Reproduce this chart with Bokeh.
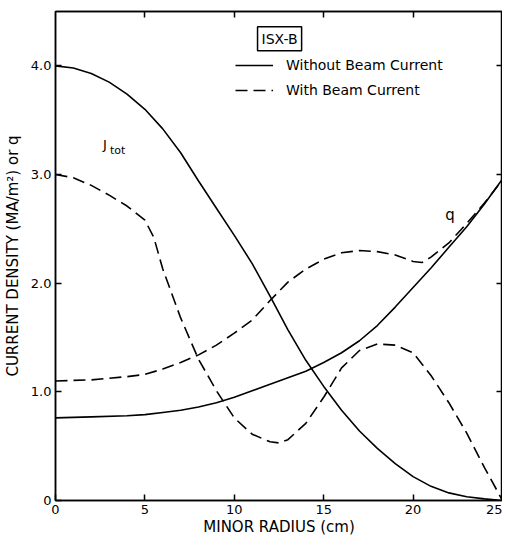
from bokeh.plotting import figure
from bokeh.models import (Range1d, LinearAxis, FixedTicker, Label, Legend, LegendItem)
from bokeh.embed import file_html
from bokeh.resources import INLINE

# ---- data ----
r_j_without = [0, 1, 2, 3, 4, 5, 6, 7, 8, 9, 10, 11, 12, 13, 14, 15, 16, 17, 18, 19, 20, 21, 22, 23, 24, 25]
j_without = [4.0, 3.98, 3.93, 3.85, 3.74, 3.60, 3.42, 3.20, 2.94, 2.69, 2.44, 2.18, 1.88, 1.57, 1.29, 1.05,
             0.83, 0.64, 0.48, 0.34, 0.22, 0.13, 0.07, 0.035, 0.015, 0.0]

r_j_with = [0, 1, 2, 3, 4, 5, 5.5, 6, 7, 8, 9, 10, 11, 12, 12.5, 13, 14, 15, 16, 17, 18, 19, 20, 21, 22, 23, 24, 25]
j_with = [3.0, 2.97, 2.90, 2.81, 2.71, 2.58, 2.42, 2.13, 1.68, 1.30, 1.01, 0.76, 0.61, 0.54, 0.53, 0.56, 0.71,
          0.95, 1.22, 1.38, 1.44, 1.43, 1.36, 1.15, 0.90, 0.62, 0.30, 0.0]

r_q_without = [0, 2, 4, 5, 6, 7, 8, 9, 10, 11, 12, 13, 14, 15, 16, 17, 18, 19, 20, 21, 22, 23, 24, 25]
q_without = [0.76, 0.77, 0.78, 0.79, 0.81, 0.83, 0.86, 0.90, 0.95, 1.01, 1.07, 1.13, 1.19, 1.27, 1.36, 1.47,
             1.61, 1.78, 1.96, 2.14, 2.33, 2.52, 2.73, 2.96]

r_q_with = [0, 2, 4, 5, 6, 7, 8, 9, 10, 11, 12, 13, 14, 15, 16, 17, 18, 19, 20, 20.5, 21, 22, 23, 24, 25]
q_with = [1.10, 1.11, 1.14, 1.16, 1.21, 1.27, 1.34, 1.43, 1.54, 1.66, 1.84, 2.01, 2.13, 2.22, 2.28, 2.30, 2.29,
          2.26, 2.20, 2.19, 2.24, 2.37, 2.55, 2.74, 2.95]

x_ticks = [0, 5, 10, 15, 20, 25]
y_ticks = [0, 1, 2, 3, 4]
y_tick_labels = ["0", "1.0", "2.0", "3.0", "4.0"]

FONT = "DejaVu Sans"

p = figure(width=502, height=538, output_backend="svg", toolbar_location=None,
           x_range=Range1d(0, 25), y_range=Range1d(0, 4.5),
           min_border_left=54, min_border_right=0, min_border_top=11, min_border_bottom=37)
p.grid.visible = False
p.outline_line_color = "black"
p.outline_line_width = 1.5
p.background_fill_color = "white"

dash = "12 6"
l1 = p.line(r_j_without, j_without, line_color="black", line_width=1.6)
l2 = p.line(r_j_with, j_with, line_color="black", line_width=1.6, line_dash=dash)
p.line(r_q_without, q_without, line_color="black", line_width=1.6)
p.line(r_q_with, q_with, line_color="black", line_width=1.6, line_dash=dash)

# axes
for ax in (p.xaxis[0], p.yaxis[0]):
    ax.axis_line_color = "black"
    ax.axis_line_width = 1.5
    ax.major_tick_in = 6
    ax.major_tick_out = 0
    ax.major_tick_line_width = 1.5
    ax.minor_tick_line_color = None
    ax.major_label_text_font = FONT
    ax.major_label_text_font_size = "13px"
    ax.major_label_text_color = "black"
    ax.axis_label_text_font = FONT
    ax.axis_label_text_font_style = "normal"
    ax.axis_label_text_color = "black"

p.xaxis.ticker = FixedTicker(ticks=x_ticks)
p.yaxis.ticker = FixedTicker(ticks=y_ticks)
p.yaxis.major_label_overrides = {t: s for t, s in zip(y_ticks, y_tick_labels)}
p.xaxis.axis_label = "MINOR RADIUS (cm)"
p.yaxis.axis_label = "CURRENT DENSITY (MA/m²) or q"
p.xaxis.axis_label_text_font_size = "15px"
p.yaxis.axis_label_text_font_size = "15px"
p.xaxis.major_label_standoff = 4
p.xaxis.axis_label_standoff = 1
p.yaxis.major_label_standoff = 4
p.yaxis.axis_label_standoff = 6

top = LinearAxis(ticker=FixedTicker(ticks=[5, 10, 15, 20]))
right = LinearAxis(ticker=FixedTicker(ticks=[1, 2, 3, 4]))
for ax in (top, right):
    ax.major_tick_in = 6
    ax.major_tick_out = 0
    ax.major_tick_line_width = 1.5
    ax.minor_tick_line_color = None
    ax.axis_line_width = 1.5
    ax.major_label_text_font_size = "0px"
    ax.major_label_standoff = 0
    ax.major_label_overrides = {t: "" for t in [1, 2, 3, 4, 5, 10, 15, 20]}
p.add_layout(top, "above")
p.add_layout(right, "right")

# legend
legend = Legend(items=[LegendItem(label="Without Beam Current", renderers=[l1]),
                       LegendItem(label="With Beam Current", renderers=[l2])],
                location=(180, 400), border_line_color=None, background_fill_alpha=0,
                glyph_width=38, glyph_height=20, spacing=5, padding=0, margin=0,
                label_standoff=13, label_text_font=FONT, label_text_font_size="14px",
                label_text_color="black")
p.add_layout(legend, "center")

p.add_layout(Label(x=11.3, y=4.25, text="ISX-B", text_baseline="middle", text_font=FONT,
                   text_font_size="14px", text_color="black", border_line_color="black",
                   border_line_width=1.5, padding=4))
p.add_layout(Label(x=2.65, y=3.28, text="J", text_baseline="middle", text_font=FONT,
                   text_font_size="13px", text_color="black"))
p.add_layout(Label(x=3.05, y=3.22, text="tot", text_baseline="middle", text_font=FONT,
                   text_font_size="11px", text_color="black"))
p.add_layout(Label(x=21.8, y=2.63, text="q", text_baseline="middle", text_font=FONT,
                   text_font_size="15px", text_color="black"))

open("out.html", "w").write(file_html(p, INLINE))
